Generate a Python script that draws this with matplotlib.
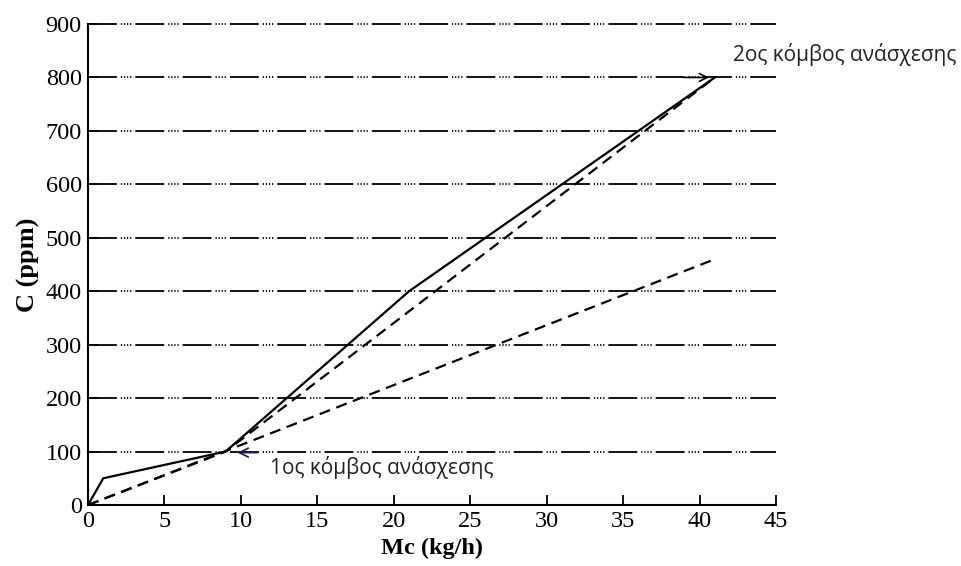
import matplotlib
matplotlib.use("Agg")
import matplotlib.pyplot as plt

# Data
solid_x = [0, 1, 9, 21, 41]
solid_y = [0, 50, 100, 400, 800]
dash1_x = [0, 9, 41]
dash1_y = [0, 100, 800]
dash2_x = [0, 41]
dash2_y = [0, 460]
xticks = [0, 5, 10, 15, 20, 25, 30, 35, 40, 45]
yticks = [0, 100, 200, 300, 400, 500, 600, 700, 800, 900]
label1 = "1ος κόμβος ανάσχεσης"
label2 = "2ος κόμβος ανάσχεσης"

fig = plt.figure(figsize=(9.62, 5.66), dpi=100)
ax = fig.add_axes([88/962, 1-505/566, (776-88)/962, (505-24)/566])

serif = ['Liberation Serif', 'DejaVu Serif']
sans = ['Open Sans', 'DejaVu Sans']

# Grid lines (dash-dot-dot pattern)
for yv in yticks[1:]:
    ax.axhline(yv, color='black', lw=1.3, zorder=1, clip_on=False,
               dashes=(16, 2.2, 0.7, 1.0, 0.7, 1.0, 0.7, 1.0, 0.7, 2.2))

ax.plot(solid_x, solid_y, color='black', lw=1.6, zorder=3)
ax.plot(dash1_x, dash1_y, color='black', lw=1.6, ls=(0, (5, 3)), zorder=3)
ax.plot(dash2_x, dash2_y, color='black', lw=1.6, ls=(0, (5, 3)), zorder=3)

ax.set_xlim(0, 45)
ax.set_ylim(0, 900)
ax.set_xticks(xticks)
ax.set_yticks(yticks)
for s in ['top', 'right']:
    ax.spines[s].set_visible(False)
for s in ['left', 'bottom']:
    ax.spines[s].set_linewidth(1.5)
ax.tick_params(direction='in', length=7, width=1.3, labelsize=17.5)
ax.tick_params(axis='x', pad=4.5)
ax.tick_params(axis='y', pad=4.5)
for t in ax.get_xticklabels() + ax.get_yticklabels():
    t.set_family(serif)

ax.set_xlabel("Mc (kg/h)", fontsize=17.5, family=serif, fontweight='bold', labelpad=4)
ax.set_ylabel("C (ppm)", fontsize=19, family=serif, fontweight='bold', labelpad=4)

ax.annotate("", xy=(9.6, 98), xytext=(11.3, 98),
            arrowprops=dict(arrowstyle='->', color='#1a1a4a', lw=1.2, mutation_scale=16), zorder=4)
ax.text(11.9, 70, label1, family=sans, fontsize=15, color='#222222', va='center', ha='left')

ax.annotate("", xy=(40.8, 800), xytext=(38.8, 800),
            arrowprops=dict(arrowstyle='->', color='black', lw=1.2, mutation_scale=14), zorder=4)
ax.text(42.2, 842, label2, family=sans, fontsize=15, color='#222222', va='center', ha='left',
        clip_on=False)

fig.savefig("out.png", dpi=100)
